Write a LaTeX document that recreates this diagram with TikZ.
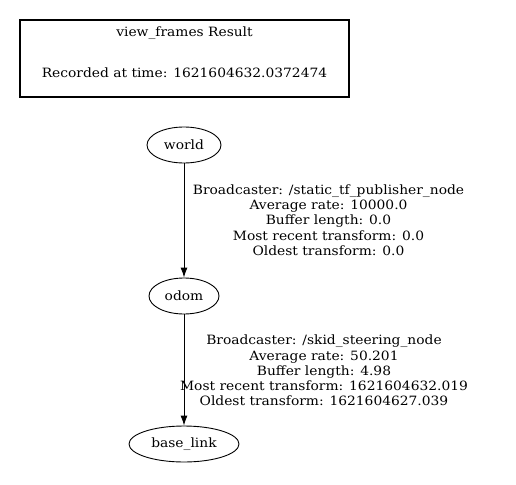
\documentclass[tikz,border=0pt]{standalone}
\usepackage{fontspec}
\setmainfont{DejaVu Serif}[FakeStretch=1.08]
\usetikzlibrary{shapes.geometric,arrows.meta}
\begin{document}
\begin{tikzpicture}[x=1pt,y=-1pt,
  frame/.style={ellipse,draw,line width=0.9pt,minimum height=36pt,inner sep=0pt,font=\fontsize{12.8}{15.25}\selectfont},
  lbl/.style={align=center,font=\fontsize{12.8}{15.25}\selectfont,inner sep=0pt},
  edge/.style={draw,line width=0.9pt,-{Latex[length=10pt,width=7pt]}}]
\useasboundingbox (0,0) rectangle (516,484);
\node[draw,line width=1.8pt,minimum width=329pt,minimum height=77pt,inner sep=0pt] (hdr) at (184.5,58.5) {};
\node[lbl] (t1) at (184.5,33) {view\_frames Result};
\node[lbl] (t2) at (184.5,72.5) {Recorded at time: 1621604632.0372474};
\node[frame,minimum width=74pt] (world) at (184,145) {world};
\node[frame,minimum width=70pt] (odom) at (184,296) {odom};
\node[frame,minimum width=110pt] (base) at (184,444) {base\_link};
\draw[edge] (world) -- (odom);
\draw[edge] (odom) -- (base);
\node[lbl] (l1) at (328.5,220) {Broadcaster: /static\_tf\_publisher\_node\\Average rate: 10000.0\\Buffer length: 0.0\\Most recent transform: 0.0\\Oldest transform: 0.0};
\node[lbl] (l2) at (324,370.5) {Broadcaster: /skid\_steering\_node\\Average rate: 50.201\\Buffer length: 4.98\\Most recent transform: 1621604632.019\\Oldest transform: 1621604627.039};
\end{tikzpicture}
\end{document}
